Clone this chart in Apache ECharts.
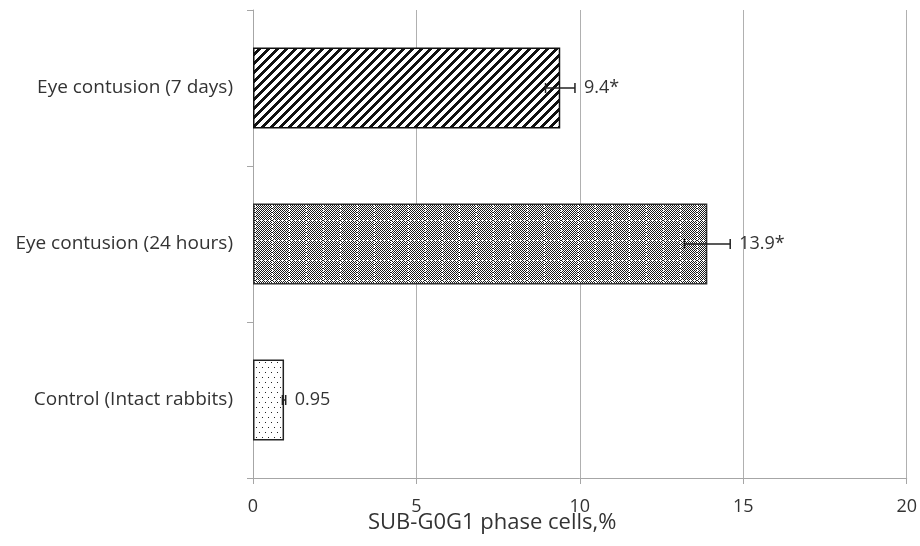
<!DOCTYPE html>
<html>
<head>
<meta charset="utf-8">
<script src="https://cdn.jsdelivr.net/npm/echarts@6/dist/echarts.min.js"></script>
<style>
  html, body { margin: 0; padding: 0; background: #fff; }
  #chart { width: 920px; height: 546px; }
</style>
</head>
<body>
<div id="chart"></div>
<script>
const categories = ["Control (Intact rabbits)", "Eye contusion (24 hours)", "Eye contusion (7 days)"];
const values = [0.95, 13.9, 9.4];
const errors = [0.05, 0.7, 0.45];
const valueLabels = ["0.95", "13.9*", "9.4*"];
const xTicks = [0, 5, 10, 15, 20];

const font = "'Open Sans', sans-serif";
const textColor = "#333";

function makeTile(w, h, draw) {
  const c = document.createElement("canvas");
  c.width = w;
  c.height = h;
  const ctx = c.getContext("2d");
  draw(ctx, w, h);
  return c;
}

// dotted (control)
const dots = makeTile(6, 10, (ctx) => {
  ctx.fillStyle = "#fff";
  ctx.fillRect(0, 0, 6, 10);
  ctx.fillStyle = "#222";
  ctx.fillRect(1, 2, 1, 1);
  ctx.fillRect(4, 7, 1, 1);
});

// fine checker with light grid (24 hours)
const grid = makeTile(17, 20, (ctx, w, h) => {
  ctx.fillStyle = "#fff";
  ctx.fillRect(0, 0, w, h);
  ctx.fillStyle = "#1a1a1a";
  for (let y = 0; y < h; y++) {
    for (let x = 0; x < w; x++) {
      const onLine = x === 0 || y === 0;
      if (onLine) {
        if ((x + y) % 4 === 0) ctx.fillRect(x, y, 1, 1);
      } else if ((x + y) % 2 === 0) {
        ctx.fillRect(x, y, 1, 1);
      }
    }
  }
});

// diagonal stripes (7 days)
const stripes = makeTile(9, 9, (ctx, w, h) => {
  ctx.fillStyle = "#fff";
  ctx.fillRect(0, 0, w, h);
  ctx.fillStyle = "#111";
  for (let y = 0; y < h; y++) {
    for (let x = 0; x < w; x++) {
      if ((x + y) % 9 < 4) ctx.fillRect(x, y, 1, 1);
    }
  }
});

const patterns = [dots, grid, stripes];
const borders = ["#222", "#333", "#111"];

const chart = echarts.init(document.getElementById("chart"), null, { renderer: "canvas" });

chart.setOption({
  animation: false,
  grid: { left: 253, right: 12, top: 10, bottom: 68 },
  xAxis: {
    type: "value",
    min: 0,
    max: 20,
    interval: 5,
    axisLine: { show: true, lineStyle: { color: "#a6a6a6", width: 1 } },
    axisTick: { show: true, length: 6, lineStyle: { color: "#a6a6a6" } },
    axisLabel: {
      color: textColor, fontFamily: font, fontSize: 18, margin: 20,
      formatter: (v) => (xTicks.includes(v) ? String(v) : "")
    },
    splitLine: { show: true, lineStyle: { color: "#b0b0b0", width: 1 } }
  },
  yAxis: {
    type: "category",
    data: categories,
    axisLine: { show: true, lineStyle: { color: "#a6a6a6", width: 1 } },
    axisTick: { show: true, length: 6, lineStyle: { color: "#a6a6a6" } },
    axisLabel: { color: textColor, fontFamily: font, fontSize: 19, margin: 20 },
    splitLine: { show: false }
  },
  graphic: [{
    type: "text",
    left: 368,
    top: 512,
    style: { text: "SUB-G0G1 phase cells,%", fill: textColor, font: "22px " + font }
  }],
  series: [
    {
      type: "bar",
      barWidth: "52%",
      data: values.map((v, i) => ({
        value: v,
        itemStyle: {
          color: { image: patterns[i], repeat: "repeat" },
          borderColor: borders[i],
          borderWidth: 1.5
        }
      })),
      z: 2
    },
    {
      type: "custom",
      data: values.map((v, i) => [i, v, errors[i]]),
      encode: { x: 1, y: 0 },
      z: 5,
      renderItem: (params, api) => {
        const idx = api.value(0);
        const v = api.value(1);
        const e = api.value(2);
        const lo = api.coord([v - e, idx]);
        const hi = api.coord([v + e, idx]);
        const y = lo[1];
        const cap = 5;
        const style = { stroke: "#222", lineWidth: 1.5 };
        return {
          type: "group",
          children: [
            { type: "line", shape: { x1: lo[0], y1: y, x2: hi[0], y2: y }, style },
            { type: "line", shape: { x1: lo[0], y1: y - cap, x2: lo[0], y2: y + cap }, style },
            { type: "line", shape: { x1: hi[0], y1: y - cap, x2: hi[0], y2: y + cap }, style },
            {
              type: "text",
              x: hi[0] + 9,
              y: y,
              style: {
                text: valueLabels[idx],
                fill: textColor,
                font: "18px " + font,
                textAlign: "left",
                textVerticalAlign: "middle"
              }
            }
          ]
        };
      }
    }
  ]
});

window.addEventListener("resize", () => chart.resize());
</script>
</body>
</html>
